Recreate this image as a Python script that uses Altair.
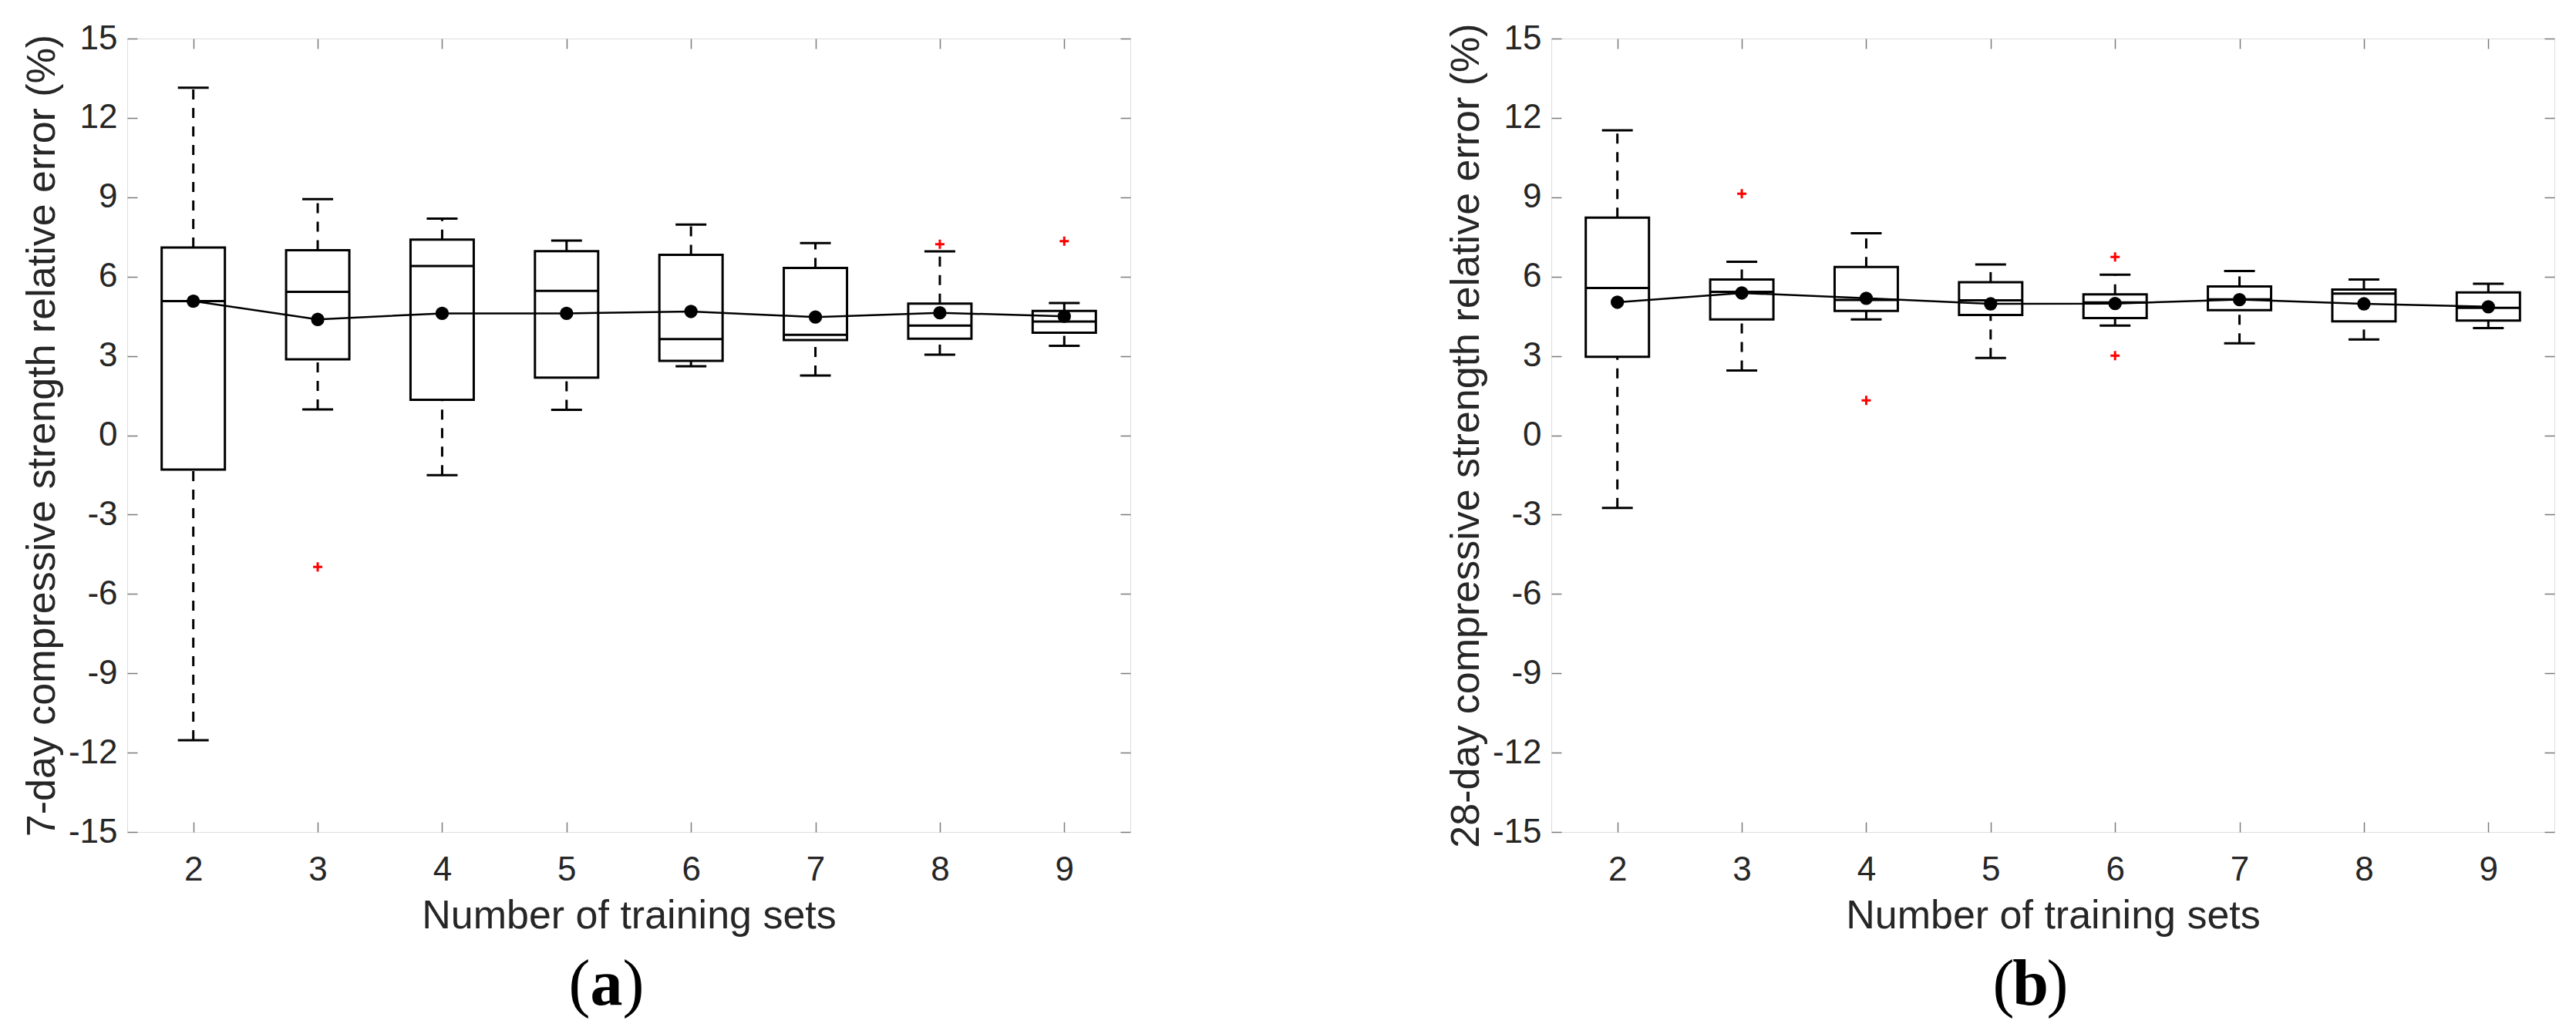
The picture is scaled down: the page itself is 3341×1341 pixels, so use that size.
import altair as alt
import pandas as pd

categories = [2, 3, 4, 5, 6, 7, 8, 9]

# (a) 7-day compressive strength relative error (%)
a_whisker_lo = [-11.53, 0.98, -1.51, 0.96, 2.61, 2.26, 3.05, 3.38]
a_q1 = [-1.30, 2.87, 1.34, 2.18, 2.81, 3.60, 3.65, 3.88]
a_median = [5.07, 5.42, 6.40, 5.46, 3.64, 3.80, 4.15, 4.30]
a_q3 = [7.10, 7.00, 7.40, 6.96, 6.82, 6.33, 4.98, 4.70]
a_whisker_hi = [13.14, 8.93, 8.19, 7.36, 7.97, 7.27, 6.95, 5.00]
a_mean = [5.07, 4.38, 4.61, 4.61, 4.68, 4.47, 4.63, 4.50]
a_out_x = [3, 8, 9]
a_out_y = [-4.98, 7.22, 7.34]

# (b) 28-day compressive strength relative error (%)
b_whisker_lo = [-2.75, 2.45, 4.38, 2.92, 4.15, 3.48, 3.62, 4.05]
b_q1 = [2.97, 4.38, 4.70, 4.55, 4.43, 4.73, 4.31, 4.34]
b_median = [5.57, 5.42, 5.12, 5.10, 5.02, 5.14, 5.36, 4.82]
b_q3 = [8.23, 5.89, 6.36, 5.79, 5.33, 5.63, 5.51, 5.40]
b_whisker_hi = [11.53, 6.56, 7.64, 6.46, 6.07, 6.21, 5.89, 5.73]
b_mean = [5.03, 5.38, 5.18, 4.97, 4.98, 5.13, 4.97, 4.86]
b_out_x = [3, 4, 6, 6]
b_out_y = [9.13, 1.32, 6.74, 3.01]

y_ticks = list(range(-15, 16, 3))

W = 1301
H = 1029
FONT = "Liberation Sans"
TXT = "#262626"
FRAME = "#7a7a7a"
TICK = 13

xscale = alt.Scale(domain=[1.5, 9.5], nice=False, zero=False)
yscale = alt.Scale(domain=[-15, 15], nice=False, zero=False)


def panel(lo, q1, med, q3, hi, mean, ox, oy, ytitle, letter):
    df = pd.DataFrame({"n": categories, "lo": lo, "q1": q1, "med": med,
                       "q3": q3, "hi": hi, "mean": mean})
    od = pd.DataFrame({"n": ox, "v": oy})
    base = alt.Chart(df)

    x_main = alt.X("n:Q", scale=xscale, axis=alt.Axis(
        orient="bottom", values=categories, offset=-TICK, tickSize=TICK,
        domain=False, grid=False, tickColor=FRAME, tickWidth=1.5,
        labelFont=FONT, labelFontSize=44, labelColor=TXT, labelPadding=27,
        labelAngle=0, title="Number of training sets", titleFont=FONT,
        titleFontSize=52, titleFontWeight="normal", titleColor=TXT,
        titlePadding=12))
    y_main = alt.Y("q1:Q", scale=yscale, axis=alt.Axis(
        orient="left", values=y_ticks, offset=-TICK, tickSize=TICK,
        domain=False, grid=False, tickColor=FRAME, tickWidth=1.5,
        labelFont=FONT, labelFontSize=44, labelColor=TXT, labelPadding=13,
        labelExpr="'' + datum.value", title=ytitle, titleFont=FONT,
        titleFontSize=52, titleFontWeight="normal", titleColor=TXT,
        titlePadding=7))

    x_top = alt.X("n:Q", scale=xscale, axis=alt.Axis(
        orient="top", values=categories, offset=-TICK, tickSize=TICK,
        domain=False, grid=False, labels=False, tickColor=FRAME,
        tickWidth=1.5, title=None))
    y_right = alt.Y("med:Q", scale=yscale, axis=alt.Axis(
        orient="right", values=y_ticks, offset=-TICK, tickSize=TICK,
        domain=False, grid=False, labels=False, tickColor=FRAME,
        tickWidth=1.5, title=None))

    xq = alt.X("n:Q", scale=xscale, axis=None)

    w_hi = base.mark_rule(color="black", strokeWidth=3, strokeDash=[13, 11]).encode(
        x=xq, y=alt.Y("q3:Q", scale=yscale, axis=None), y2="hi:Q")
    w_lo = base.mark_rule(color="black", strokeWidth=3, strokeDash=[13, 11]).encode(
        x=xq, y=alt.Y("lo:Q", scale=yscale, axis=None), y2="q1:Q")
    cap_hi = base.mark_tick(color="black", orient="horizontal", size=40,
                            thickness=3, opacity=1).encode(
        x=xq, y=alt.Y("hi:Q", scale=yscale, axis=None))
    cap_lo = base.mark_tick(color="black", orient="horizontal", size=40,
                            thickness=3, opacity=1).encode(
        x=xq, y=alt.Y("lo:Q", scale=yscale, axis=None))
    box = base.mark_bar(size=82, fill="white", stroke="black",
                        strokeWidth=3).encode(x=x_main, y=y_main, y2="q3:Q")
    median = base.mark_tick(color="black", orient="horizontal", size=82,
                            thickness=3, opacity=1).encode(x=x_top, y=y_right)
    mline = base.mark_line(color="black", strokeWidth=2.5).encode(
        x=xq, y=alt.Y("mean:Q", scale=yscale, axis=None))
    mpts = base.mark_circle(color="black", size=300, opacity=1).encode(
        x=xq, y=alt.Y("mean:Q", scale=yscale, axis=None))
    outl = alt.Chart(od).mark_point(
        shape="M-1,0L1,0M0,-1L0,1", color="red", strokeWidth=3, size=144,
        filled=False, opacity=1).encode(
        x=xq, y=alt.Y("v:Q", scale=yscale, axis=None))

    cx = W / 2 - 29
    cy = 1253
    cap_df = pd.DataFrame({"l": ["("], "m": [letter], "r": [")"]})
    capc = alt.Chart(cap_df)
    c_l = capc.mark_text(font="Liberation Serif", fontSize=84, align="right",
                         baseline="alphabetic", color="black").encode(
        x=alt.value(cx - 21), y=alt.value(cy), text="l:N")
    c_m = capc.mark_text(font="Liberation Serif", fontSize=84, fontWeight="bold",
                         align="center", baseline="alphabetic",
                         color="black").encode(
        x=alt.value(cx), y=alt.value(cy), text="m:N")
    c_r = capc.mark_text(font="Liberation Serif", fontSize=84, align="left",
                         baseline="alphabetic", color="black").encode(
        x=alt.value(cx + 21), y=alt.value(cy), text="r:N")

    return alt.layer(w_hi, w_lo, cap_hi, cap_lo, box, median, mline, mpts,
                     outl, c_l, c_m, c_r).properties(width=W, height=H)


left = panel(a_whisker_lo, a_q1, a_median, a_q3, a_whisker_hi, a_mean,
             a_out_x, a_out_y,
             "7-day compressive strength relative error (%)", "a")
right = panel(b_whisker_lo, b_q1, b_median, b_q3, b_whisker_hi, b_mean,
              b_out_x, b_out_y,
              "28-day compressive strength relative error (%)", "b")

chart = alt.hconcat(left, right, spacing=406).properties(
    padding={"left": 19, "top": 19, "right": 5, "bottom": 5}
).configure_view(stroke=FRAME, strokeWidth=1.5).configure(background="white")

chart.save("out.html", embed_options={"renderer": "svg", "actions": False})
